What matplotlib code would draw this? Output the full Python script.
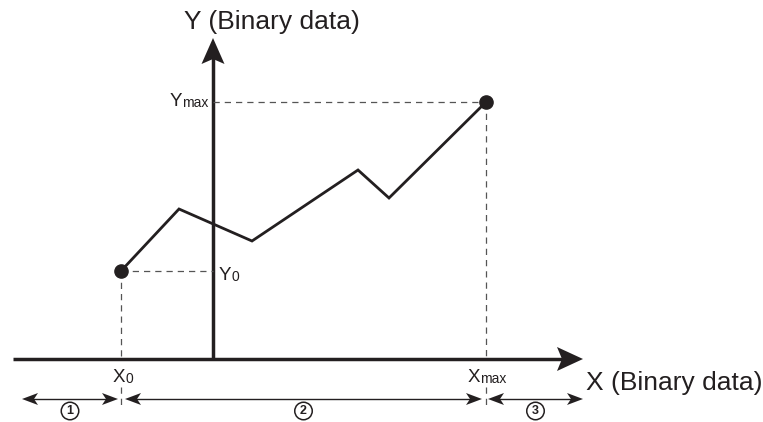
"""Diagram of a binary-data curve with its X/Y ranges"""

import numpy as np
import matplotlib.pyplot as plt
from matplotlib.patches import Polygon

plt.rcParams["font.family"] = ["Liberation Sans", "DejaVu Sans"]

# Curve values (origin at the axis crossing)
curve_x = [-92, -34, 39, 145, 176, 273]
curve_y = [88, 150, 118, 189, 161, 257]

# Axis extents
x_axis = [-200, 370]
y_axis = [0, 321]

# Ranges below the X axis (circled numbers)
range_labels = ["1", "2", "3"]
range_start = [-191, -88, 275]
range_end = [-95, 269, 370]

INK = "#231f20"
DASH = "#555555"


def arrow_head(ax, tip, d, length, half, notch):
    """Draw a filled stealth style arrow head pointing along d"""
    d = np.array(d, float)
    n = np.array([-d[1], d[0]])
    tip = np.array(tip, float)
    back = tip - d * length
    pts = [tip, back + n * half, tip - d * (length - notch), back - n * half]
    ax.add_patch(Polygon(pts, closed=True, fc=INK, ec="none", zorder=5))


def sub_label(ax, x, y, main, sub):
    """Letter with a small baseline subscript right after it"""
    t = ax.text(x, y, main, fontsize=13.5, va="baseline", ha="left", color=INK)
    ax.annotate(sub, xy=(1, 0), xycoords=t, fontsize=10,
                va="bottom", ha="left", color=INK)


fig = plt.figure(figsize=(7.63, 4.22), dpi=100)
ax = fig.add_axes([0, 0, 1, 1])
ax.set_xlim(-213, 550)
ax.set_ylim(-63, 359)
ax.axis("off")

x0, xmax = curve_x[0], curve_x[-1]
y0, ymax = curve_y[0], curve_y[-1]

# Axes with big arrows
ax.plot([x_axis[0], x_axis[1] - 20], [0, 0], color=INK, lw=2.5, solid_capstyle="butt")
arrow_head(ax, (x_axis[1], 0), (1, 0), 26, 12, 5)
ax.plot([0, 0], [y_axis[0], y_axis[1] - 20], color=INK, lw=2.5, solid_capstyle="butt")
arrow_head(ax, (0, y_axis[1]), (0, 1), 26, 11.5, 5)

# Dashed guide lines
dash = dict(color=DASH, lw=0.9, ls=(0, (5, 4)))
ax.plot([x0, 0], [y0, y0], **dash)
ax.plot([0, xmax], [ymax, ymax], **dash)
for xv, yv in [(x0, y0), (xmax, ymax)]:
    ax.plot([xv, xv], [yv, 0], **dash)
    ax.plot([xv, xv], [-28, -49], **dash)

# Curve and its end points
ax.plot(curve_x, curve_y, color=INK, lw=2.0, solid_joinstyle="miter", zorder=4)
ax.plot([x0, xmax], [y0, ymax], "o", color=INK, ms=9.5, zorder=6)

# Range arrows
for lab, a, b in zip(range_labels, range_start, range_end):
    ax.plot([a + 8, b - 8], [-40, -40], color=INK, lw=1.0)
    arrow_head(ax, (a, -40), (-1, 0), 16, 6, 4)
    arrow_head(ax, (b, -40), (1, 0), 16, 6, 4)
    ax.text((a + b) / 2, -52, lab, fontsize=9, fontweight="bold",
            ha="center", va="center", color=INK,
            bbox=dict(boxstyle="circle,pad=0.22", fc="white", ec=INK, lw=1.1))

# Labels
sub_label(ax, x0 - 8, -23, "X", "0")
sub_label(ax, xmax - 18, -23, "X", "max")
sub_label(ax, 6, y0 - 9, "Y", "0")
sub_label(ax, -43, ymax - 4, "Y", "max")

ax.text(59, 337, "Y (Binary data)", fontsize=19, ha="center", va="center", color=INK)
ax.text(373, -24, "X (Binary data)", fontsize=19, ha="left", va="center", color=INK)

fig.savefig("out.png", dpi=100)
